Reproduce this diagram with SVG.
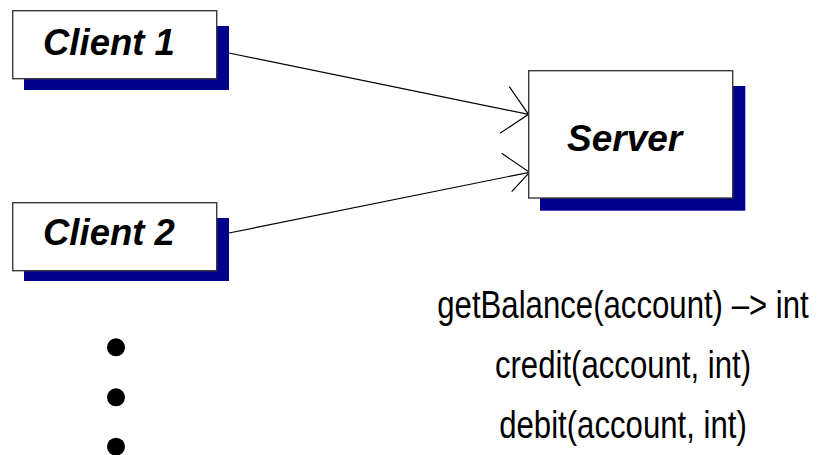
<svg xmlns="http://www.w3.org/2000/svg" width="817" height="455" viewBox="0 0 817 455">
  <style>
    .shadow { fill: #00008c; }
    .box { fill: #ffffff; stroke: #3a3a3a; stroke-width: 1.4; }
    .label { font-family: "Liberation Sans", Arial, sans-serif; font-weight: bold; font-style: italic; fill: #000000; }
    .edge { fill: none; stroke: #000000; stroke-width: 1.2; }
    .method { font-family: "Liberation Sans", Arial, sans-serif; font-size: 38px; fill: #000000; text-anchor: middle; }
  </style>

  <g id="connectors">
    <line class="edge" x1="229" y1="53" x2="528.5" y2="114.3"/>
    <polyline class="edge" points="509.3,86.7 528.5,114.3 500,133.3"/>
    <line class="edge" x1="229" y1="233" x2="529.5" y2="172.3"/>
    <polyline class="edge" points="501.7,153.3 529.5,172.3 511.7,191.7"/>
  </g>

  <g id="client1">
    <rect class="shadow" x="24" y="26" width="205" height="64"/>
    <rect class="box" x="12.7" y="10.7" width="204" height="68"/>
    <text class="label" x="43" y="55" font-size="36.5">Client 1</text>
  </g>

  <g id="client2">
    <rect class="shadow" x="24" y="218" width="205" height="63"/>
    <rect class="box" x="12.7" y="202.7" width="204" height="68"/>
    <text class="label" x="43" y="245" font-size="36.5">Client 2</text>
  </g>

  <g id="server">
    <rect class="shadow" x="540" y="86" width="205.3" height="124.7"/>
    <rect class="box" x="528.7" y="70.7" width="204" height="127.3"/>
    <text class="label" x="567" y="150.7" font-size="37">Server</text>
  </g>

  <!-- narrow sans: regular face squeezed horizontally -->
  <g id="methods" transform="translate(623,0) scale(0.82,1)">
    <text class="method" x="0" y="318">getBalance(account) –&gt; int</text>
    <text class="method" x="0" y="378">credit(account, int)</text>
    <text class="method" x="0" y="438">debit(account, int)</text>
  </g>

  <g id="ellipsis">
    <circle cx="116" cy="347.3" r="9"/>
    <circle cx="116" cy="397.3" r="9"/>
    <circle cx="116" cy="446.7" r="9"/>
  </g>
</svg>
